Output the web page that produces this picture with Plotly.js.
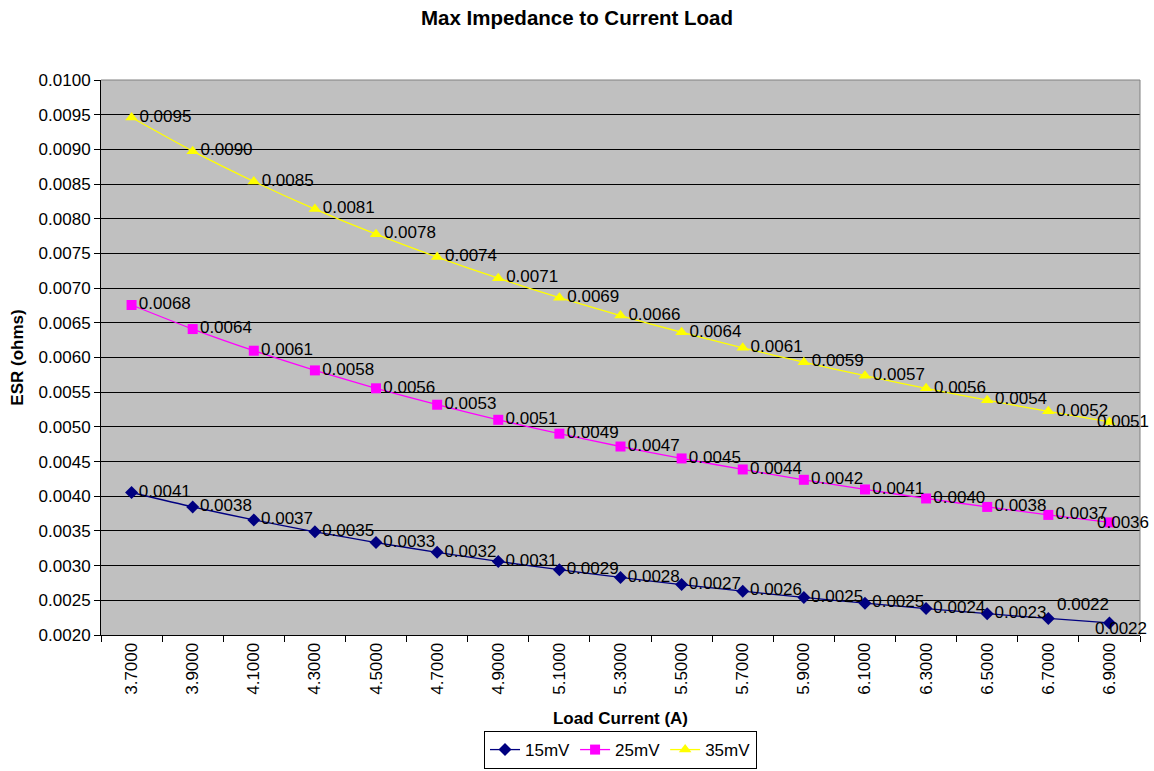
<!DOCTYPE html>
<html>
<head>
<meta charset="utf-8">
<script src="https://cdn.plot.ly/plotly-3.0.1.min.js"></script>
<style>html,body{margin:0;padding:0;background:#fff;}#chart{width:1154px;height:771px;}</style>
</head>
<body>
<div id="chart"></div>
<script>
const loadCurrent = ['3.7000','3.9000','4.1000','4.3000','4.5000','4.7000','4.9000','5.1000','5.3000','5.5000','5.7000','5.9000','6.1000','6.3000','6.5000','6.7000','6.9000'];
const esr15mV = [0.004054,0.003846,0.003659,0.003488,0.003333,0.003191,0.003061,0.002941,0.002830,0.002727,0.002632,0.002542,0.002459,0.002381,0.002308,0.002239,0.002174];
const esr25mV = [0.006757,0.006410,0.006098,0.005814,0.005556,0.005319,0.005102,0.004902,0.004717,0.004545,0.004386,0.004237,0.004098,0.003968,0.003846,0.003731,0.003623];
const esr35mV = [0.009459,0.008974,0.008537,0.008140,0.007778,0.007447,0.007143,0.006863,0.006604,0.006364,0.006140,0.005932,0.005738,0.005556,0.005385,0.005224,0.005072];
const yTicks = [0.0020,0.0025,0.0030,0.0035,0.0040,0.0045,0.0050,0.0055,0.0060,0.0065,0.0070,0.0075,0.0080,0.0085,0.0090,0.0095,0.0100];

const font = 'Arial, "Liberation Sans", sans-serif';
const LBL = 17;

// labels placed separately (index -> [xshift, yshift])
const special15 = {15:[35,14], 16:[12,-6]};
const special25 = {16:[14,0]};
const special35 = {16:[14,0]};

function series(name, y, color, symbol, size, special){
  return {
    type:'scatter', mode:'lines+markers+text', name:name,
    x: loadCurrent, y: y,
    line:{color:color, width:1.3, shape:'spline', smoothing:0.6},
    marker:{color:color, symbol:symbol, size:size},
    text: y.map((v,i)=> special[i] ? '' : v.toFixed(4)),
    textposition:'middle right',
    textfont:{family:font, size:LBL, color:'#000'},
    cliponaxis:false
  };
}
function specialAnn(y, special){
  return Object.keys(special).map(k=>{
    const i = +k;
    return {x: i, y: y[i], xref:'x', yref:'y', text: y[i].toFixed(4), showarrow:false,
      xanchor:'center', yanchor:'middle', xshift: special[i][0], yshift: special[i][1],
      font:{family:font, size:LBL, color:'#000'}};
  });
}
const traces = [
  series('15mV', esr15mV, '#000080', 'diamond', 10, special15),
  series('25mV', esr25mV, '#FF00FF', 'square', 10, special25),
  series('35mV', esr35mV, '#FFFF00', 'triangle-up', 11, special35)
];
const layout = {
  width:1154, height:771,
  margin:{l:101, r:14, t:80, b:136, autoexpand:false},
  paper_bgcolor:'#fff', plot_bgcolor:'#C0C0C0',
  font:{family:font, size:17, color:'#000'},
  title:{text:'<b>Max Impedance to Current Load</b>', x:0.5, xanchor:'center', y:0.977, yanchor:'middle', font:{family:font, size:20.5, color:'#000'}},
  xaxis:{
    type:'category', tickangle:-90, tickson:'boundaries', ticks:'outside', ticklen:6, tickcolor:'#000',
    showline:true, linecolor:'#000', linewidth:1, showgrid:false, zeroline:false,
    tickfont:{family:font, size:17},
    title:{text:'<b>Load Current (A)</b>', font:{family:font, size:17}, standoff:18},
    range:[-0.5,16.5], automargin:false
  },
  yaxis:{
    range:[0.0020,0.0100], tickvals:yTicks, tickformat:'.4f', ticks:'outside', ticklen:6, tickcolor:'#000',
    showline:true, linecolor:'#000', linewidth:1, showgrid:true, gridcolor:'#000', gridwidth:1, zeroline:false,
    tickfont:{family:font, size:17}, automargin:false,
    title:{text:'<b>ESR (ohms)</b>', font:{family:font, size:17}, standoff:10}
  },
  showlegend:true,
  legend:{orientation:'h', x:0.5, xanchor:'center', y:-0.2415, yanchor:'bottom', bordercolor:'#000', borderwidth:1, bgcolor:'#fff', font:{family:font, size:17}, traceorder:'normal'},
  annotations:[...specialAnn(esr15mV, special15), ...specialAnn(esr25mV, special25), ...specialAnn(esr35mV, special35)],
  shapes:[
    {type:'line', xref:'paper', yref:'paper', x0:0, x1:1, y0:1, y1:1, line:{color:'#808080', width:1}},
    {type:'line', xref:'paper', yref:'paper', x0:1, x1:1, y0:0, y1:1, line:{color:'#808080', width:1}}
  ]
};
Plotly.newPlot('chart', traces, layout, {displayModeBar:false, staticPlot:true});
</script>
</body>
</html>
